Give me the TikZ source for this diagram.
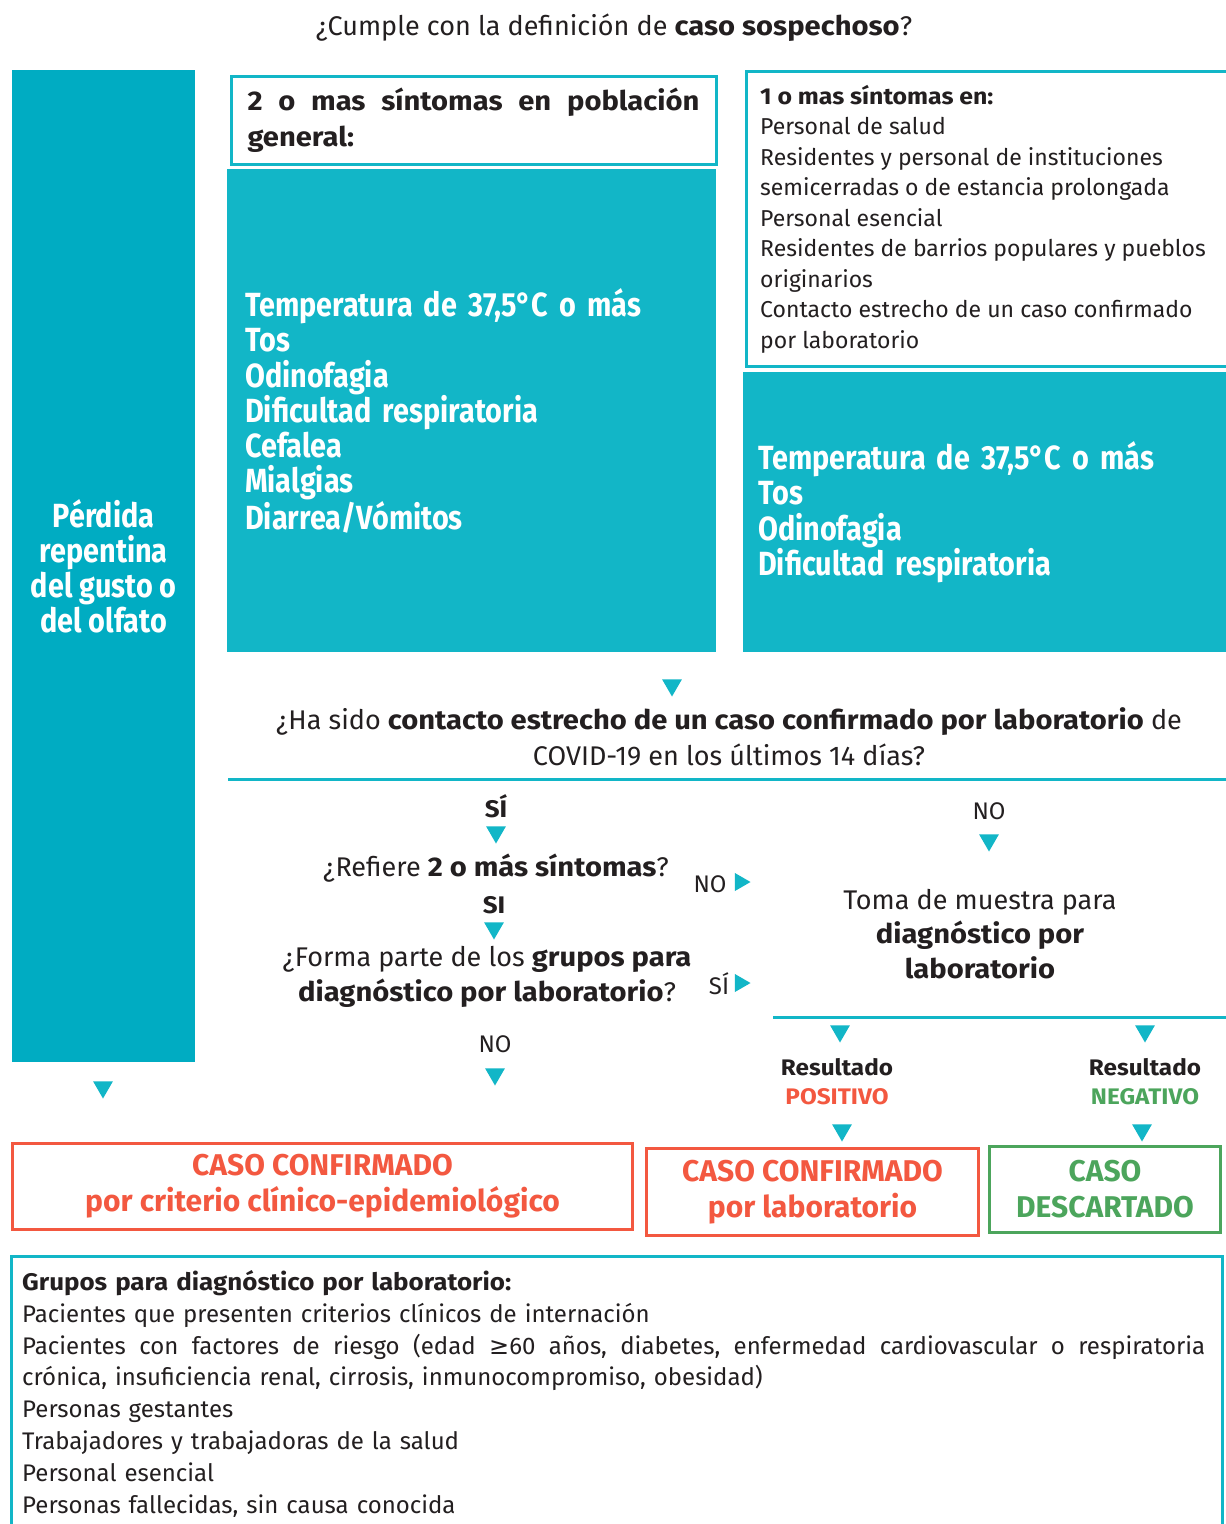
\documentclass[tikz,border=0pt]{standalone}
\usepackage{fontspec}
\setmainfont{Fira Sans}[BoldFeatures={FakeStretch=1.08}]
\newfontfamily\condf{Fira Sans}[FakeStretch=0.86]
\newfontfamily\plainf{Fira Sans}
\newfontfamily\symf{DejaVu Sans}
\usetikzlibrary{shapes.geometric}
\definecolor{tealA}{RGB}{0,172,194}
\definecolor{tealL}{RGB}{18,182,199}
\definecolor{redC}{RGB}{243,88,64}
\definecolor{greenC}{RGB}{76,165,92}
\definecolor{ink}{RGB}{35,31,32}
\newcommand\fs[2]{\fontsize{#1}{#2}\selectfont}
\tikzset{
  tri/.style={regular polygon, regular polygon sides=3, shape border rotate=180, fill=tealL, inner sep=0pt, minimum size=23pt},
  trir/.style={regular polygon, regular polygon sides=3, shape border rotate=-90, fill=tealL, inner sep=0pt, minimum size=21pt},
  txt/.style={text=ink, inner sep=0pt, align=center},
  wbox/.style={draw=tealL, line width=3pt, fill=white, anchor=north west},
  tbox/.style={fill=tealL, anchor=north west, text=white, align=left},
  outbox/.style={line width=3pt, align=center, font=\plainf\bfseries\fs{30}{36}},
  sep/.style={draw=tealL, line width=3pt}
}
\begin{document}
\begin{tikzpicture}[x=1pt,y=-1pt]
\clip (0,0) rectangle (1226,1524);
\fill[white] (0,0) rectangle (1226,1524);
% title
\node[txt, font=\fs{27}{32}] (title) at (614,28) {¿Cumple con la definición de \textbf{caso sospechoso}?};
% left bar
\node[fill=tealA, minimum width=183pt, minimum height=992pt, anchor=north west, text=white, font=\condf\bfseries\fs{33.5}{35}, align=center, inner sep=0pt] (loss) at (12,70) {Pérdida\\repentina\\del gusto o\\del olfato};
% general population header
\node[wbox, minimum width=485pt, minimum height=88pt, text width=452pt, inner sep=0pt, align=left, text=ink, font=\bfseries\fs{27}{36}] (genh) at (229.5,74.5) {\makebox[452pt][l]{2\hfill o\hfill mas\hfill síntomas\hfill en\hfill población}\\general:};
% general symptoms
\node[tbox, minimum width=489pt, minimum height=483pt, text width=453pt, inner sep=0pt, font=\condf\bfseries\fs{33.5}{35.2}] (gen) at (227,169) {Temperatura de 37,5°C o más\\Tos\\Odinofagia\\Dificultad respiratoria\\Cefalea\\Mialgias\\Diarrea/Vómitos};
% special population header
\node[wbox, minimum width=500pt, minimum height=295pt, inner sep=0pt] (esph) at (744.5,69.5) {};
\node[anchor=west, inner sep=0pt, align=left, text=ink, font=\fs{23}{30.5}] (espht) at (760,219) {\textbf{1 o mas síntomas en:}\\Personal de salud\\Residentes y personal de instituciones\\semicerradas o de estancia prolongada\\Personal esencial\\Residentes de barrios populares y pueblos\\originarios\\Contacto estrecho de un caso confirmado\\por laboratorio};
% special symptoms
\node[tbox, minimum width=500pt, minimum height=280pt, text width=470pt, inner sep=0pt, font=\condf\bfseries\fs{33.5}{35.3}] (esp) at (743,372) {Temperatura de 37,5°C o más\\Tos\\Odinofagia\\Dificultad respiratoria};
% contact question
\node[tri] (t1) at (672,685) {};
\node[txt, font=\fs{27}{36}] (q1) at (729,737) {¿Ha sido \textbf{contacto estrecho de un caso confirmado por laboratorio} de\\COVID-19 en los últimos 14 días?};
\coordinate (l1a) at (228,779);
\coordinate (l1b) at (1230,779);
\draw[sep] (l1a) -- (l1b);
% yes branch
\node[txt, font=\bfseries\fs{24}{28}] (si1) at (496,806) {SÍ};
\node[tri] (t2) at (496,832) {};
\node[txt, font=\fs{27}{32}] (q2) at (496,868) {¿Refiere \textbf{2 o más síntomas}?};
\node[txt, font=\fs{24}{28}] (no2) at (710,884) {NO};
\node[trir] (t3) at (740,882) {};
\node[txt, font=\bfseries\fs{24}{28}] (si2) at (494,905) {SI};
\node[tri] (t4) at (494,928) {};
\node[txt, font=\fs{27}{35}] (q3) at (487,977) {¿Forma parte de los \textbf{grupos para}\\\textbf{diagnóstico por laboratorio}?};
\node[txt, font=\fs{24}{28}] (si3) at (719,984) {SÍ};
\node[trir] (t5) at (740,983) {};
\node[txt, font=\fs{24}{28}] (no3) at (495,1044) {NO};
\node[tri] (t6) at (495,1074) {};
% no branch
\node[txt, font=\fs{24}{28}] (no1) at (989,811) {NO};
\node[tri] (t7) at (989,840) {};
\node[txt, font=\fs{27}{34.5}] (toma) at (980,934) {Toma de muestra para\\\textbf{diagnóstico por}\\\textbf{laboratorio}};
\coordinate (l2a) at (773,1017);
\coordinate (l2b) at (1230,1017);
\draw[sep] (l2a) -- (l2b);
\node[tri] (t8) at (840,1031) {};
\node[tri] (t9) at (1145,1031) {};
\node[txt, font=\bfseries\fs{22.5}{29}] (pos) at (837,1082) {Resultado\\\textcolor{redC}{POSITIVO}};
\node[txt, font=\bfseries\fs{22.5}{29}] (neg) at (1145,1082) {Resultado\\\textcolor{greenC}{NEGATIVO}};
\node[tri] (t10) at (842,1130) {};
\node[tri] (t11) at (1142,1130) {};
\node[tri] (t12) at (103,1087) {};
% outcomes
\node[outbox, draw=redC, text=redC, minimum width=620pt, minimum height=86pt] (cc1) at (322.5,1186.5) {CASO CONFIRMADO\\por criterio clínico-epidemiológico};
\node[outbox, draw=redC, text=redC, minimum width=332pt, minimum height=87pt] (cc2) at (812.5,1192) {CASO CONFIRMADO\\por laboratorio};
\node[outbox, draw=greenC, text=greenC, minimum width=231pt, minimum height=86pt] (cd) at (1105,1189.5) {CASO\\DESCARTADO};
% groups box
\node[draw=tealL, line width=3pt, anchor=north west, minimum width=1211pt, minimum height=320pt] (grp) at (9.5,1254.5) {};
\node[anchor=north west, inner sep=0pt, text width=1190pt, align=left, text=ink, font=\fs{24}{31.9}] (grpt) at (22,1270) {\textbf{Grupos para diagnóstico por laboratorio:}\\Pacientes que presenten criterios clínicos de internación\\\makebox[1183pt][l]{Pacientes\hfill con\hfill factores\hfill de\hfill riesgo\hfill (edad\hfill {\symf ≥}60\hfill años,\hfill diabetes,\hfill enfermedad\hfill cardiovascular\hfill o\hfill respiratoria}\\crónica, insuficiencia renal, cirrosis, inmunocompromiso, obesidad)\\Personas gestantes\\Trabajadores y trabajadoras de la salud\\Personal esencial\\Personas fallecidas, sin causa conocida};
\end{tikzpicture}
\end{document}
